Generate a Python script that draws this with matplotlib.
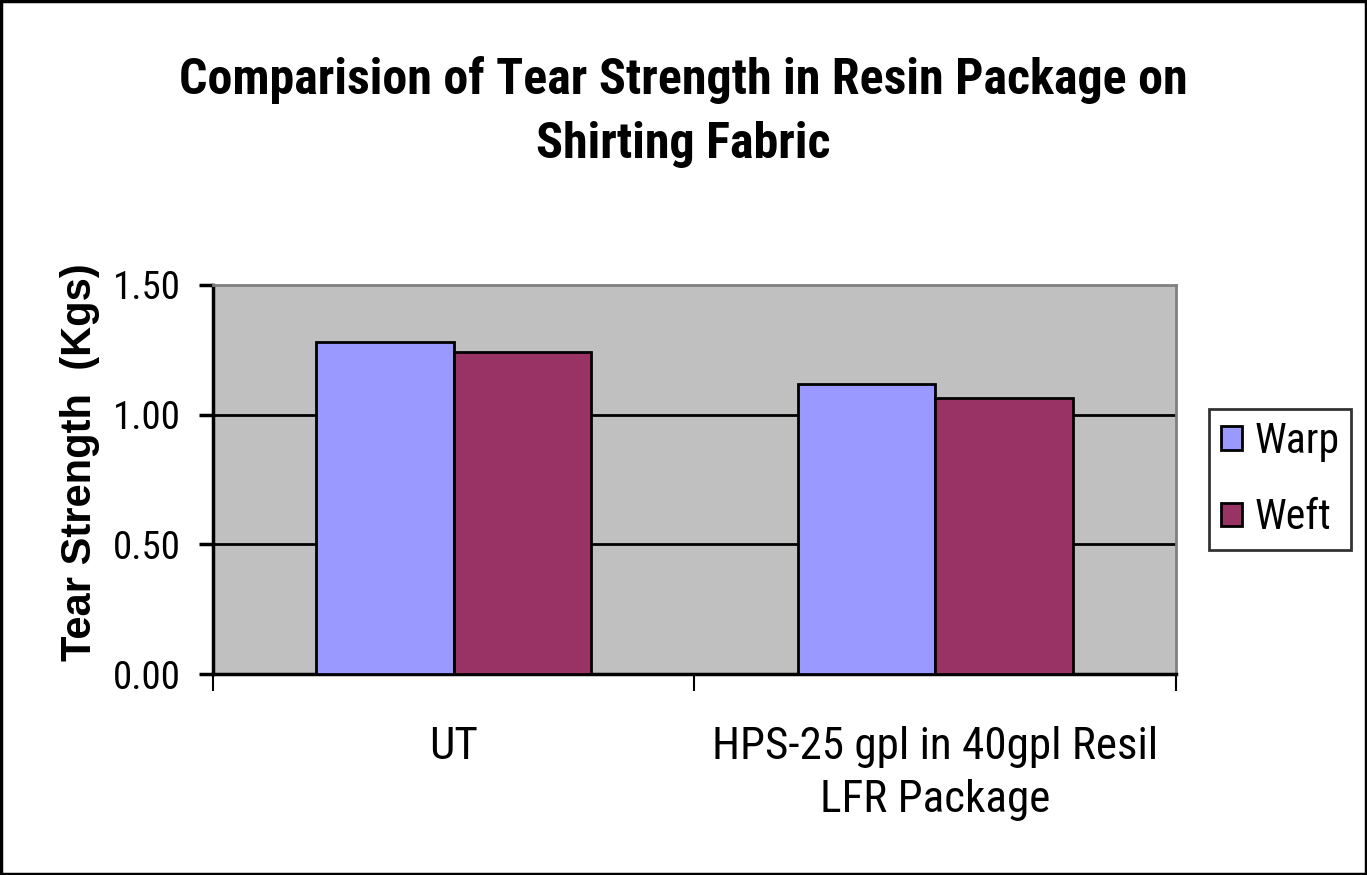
import matplotlib.pyplot as plt
import matplotlib.patches as pat
import numpy as np

REG = ['Roboto Condensed', 'Archivo Narrow', 'Liberation Sans', 'DejaVu Sans']
BOLD = ['Roboto Condensed', 'IBM Plex Sans Condensed', 'Liberation Sans', 'DejaVu Sans']
plt.rcParams['font.family'] = REG

# data
categories = ['UT', 'HPS-25 gpl in 40gpl Resil\nLFR Package']
series = ['Warp', 'Weft']
warp = [1.28, 1.12]
weft = [1.24, 1.065]
yticks = [0.0, 0.5, 1.0, 1.5]

colors = ['#9999FF', '#993366']

fig = plt.figure(figsize=(13.67, 8.75), dpi=100)
ax = fig.add_axes([0.156, 0.2297, 0.704, 0.4446])
ax.set_facecolor('#C0C0C0')

x = np.arange(len(categories))
w = 1 / 3.5
ax.bar(x - w / 2, warp, w, color=colors[0], edgecolor='black', linewidth=2, label=series[0], zorder=3)
ax.bar(x + w / 2, weft, w, color=colors[1], edgecolor='black', linewidth=2, label=series[1], zorder=3)

ax.set_xlim(-0.5, len(categories) - 0.5)
ax.set_ylim(0, 1.5)
ax.set_yticks(yticks)
ax.set_yticklabels(['%.2f' % v for v in yticks], fontsize=28)
for v in yticks[1:-1]:
    ax.axhline(v, color='black', linewidth=2, zorder=1)

# category boundaries as ticks
ax.set_xticks(np.arange(-0.5, len(categories)))
ax.set_xticklabels([])
ax.tick_params(axis='x', length=12, width=1.5, direction='out')
ax.tick_params(axis='y', length=10, width=2.5, direction='out', pad=13)
for i, c in enumerate(categories):
    ax.text(i, -0.2, c, ha='center', va='top', fontsize=32.5, linespacing=1.35,
            transform=ax.transData)

for s in ['top', 'right']:
    ax.spines[s].set_color('#808080')
    ax.spines[s].set_linewidth(2)
for s in ['left', 'bottom']:
    ax.spines[s].set_color('black')
    ax.spines[s].set_linewidth(2.5)

ax.set_ylabel('Tear Strength  (Kgs)', fontsize=30, fontweight='bold',
              family=['Liberation Sans', 'DejaVu Sans'])
ax.yaxis.set_label_coords(-0.118, 0.545)

fig.text(0.5, 0.872, 'Comparision of Tear Strength in Resin Package on\nShirting Fabric',
         ha='center', va='center', fontsize=36, fontweight='bold', linespacing=1.45,
         family=BOLD)

leg = ax.legend(loc='center left', bbox_to_anchor=(1.035, 0.5), fontsize=30,
                frameon=True, fancybox=False, edgecolor='black', handlelength=0.5,
                handleheight=0.5, handletextpad=0.3, borderpad=0.28, labelspacing=0.85,
                borderaxespad=0)
leg.get_frame().set_linewidth(2)

fig.patches.append(pat.Rectangle((0.001, 0.001), 0.998, 0.998, transform=fig.transFigure,
                                 fill=False, edgecolor='black', linewidth=2.5))

fig.savefig('out.png', dpi=100)
